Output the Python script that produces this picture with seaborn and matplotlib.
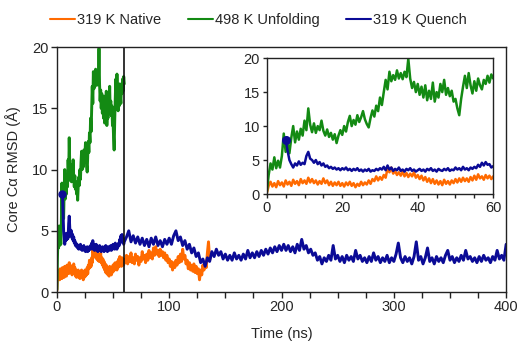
import numpy as np
import pandas as pd
import seaborn as sns
import matplotlib.pyplot as plt
from matplotlib.ticker import MultipleLocator

# RMSD traces (Angstrom)
# early part sampled every 0.5 ns, later part coarser
unfold_start, unfold_step = 0.0, 0.5
unfold_rmsd = [
    0.2, 2.8, 4.5, 3.6, 5.4, 3.8, 4.9, 3.9, 5.6, 8.9, 6.2, 7.4, 6.0, 8.3, 10.0, 7.6,
    9.2, 8.0, 9.6, 8.6, 10.8, 9.4, 12.6, 10.2, 9.1, 10.4, 9.0, 10.0, 9.4, 10.8, 9.3, 8.6,
    9.5, 8.4, 9.0, 8.0, 8.8, 7.5, 8.6, 9.4, 8.7, 10.0, 9.2, 10.6, 11.5, 10.0, 10.9, 10.2,
    11.6, 10.6, 11.3, 12.2, 11.0, 10.3, 9.8, 11.2, 12.3, 11.4, 13.0, 12.2, 14.2, 13.1, 15.0, 16.8,
    15.4, 18.0, 16.6, 17.5, 16.8, 18.2, 17.0, 17.8, 16.9, 18.0, 17.2, 19.9, 17.0, 15.6, 16.5, 15.0,
    16.2, 14.6, 15.8, 14.2, 16.0, 13.8, 15.2, 14.0, 16.4, 13.6, 15.0, 14.2, 16.2, 15.0, 16.8, 14.6,
    15.6, 14.4, 15.2, 13.6, 14.0, 12.6, 11.6, 14.0, 15.8, 17.4, 15.6, 17.8, 16.0, 14.8, 16.6, 15.2,
    17.0, 16.0, 15.4, 16.8, 16.2, 17.4, 16.4, 17.6, 17.0,
]

native_early_start, native_early_step = 0.0, 0.5
native_early = [
    0.1, 1.2, 1.8, 1.1, 1.6, 1.0, 1.9, 1.3, 1.7, 1.1, 2.0, 1.4, 1.8, 1.2, 2.1, 1.5,
    1.9, 1.3, 2.2, 1.6, 2.0, 1.5, 2.4, 1.7, 2.2, 1.6, 2.0, 1.4, 1.9, 1.5, 2.3, 1.6,
    2.0, 1.3, 1.8, 1.2, 1.7, 1.3, 1.8, 1.2, 1.6, 1.1, 1.7, 1.3, 1.8, 1.2, 1.6, 1.0,
    1.5, 1.2, 1.8, 1.3, 1.7, 1.4, 2.0, 1.5, 2.2, 1.9, 2.6, 2.0, 2.5, 2.1, 2.8, 2.4,
    3.8, 3.2, 3.9, 3.0, 3.4, 2.8, 3.2, 2.7, 3.3, 2.6, 3.1, 2.5, 3.0, 2.6, 3.2, 2.4,
    2.8, 2.2, 2.7, 2.0, 2.5, 1.8, 2.3, 1.6, 2.2, 1.5, 2.0, 1.4, 1.9, 1.3, 2.1, 1.5,
    1.9, 1.4, 2.0, 1.6, 2.2, 1.7, 2.3, 1.8, 2.4, 1.9, 2.3, 1.8, 2.5, 2.0, 2.7, 2.1,
    2.9, 2.3, 2.6, 2.1, 2.8, 2.3, 2.7, 2.2, 2.6,
]
native_late_start, native_late_step = 61.0, 1.0
native_late = [
    2.4, 3.0, 2.3, 2.9, 2.5, 3.2, 2.4, 2.8, 2.3, 3.1, 2.6, 2.9, 2.2, 2.8, 2.5, 3.3,
    2.7, 3.0, 2.4, 3.1, 2.6, 3.4, 2.8, 3.2, 2.7, 3.6, 3.0, 3.7, 3.1, 3.4, 2.9, 3.5,
    3.0, 3.3, 2.8, 3.2, 2.6, 3.0, 2.4, 2.7, 2.1, 2.5, 1.8, 2.4, 2.0, 2.6, 2.2, 2.9,
    2.4, 3.1, 2.5, 3.5, 2.7, 3.0, 2.3, 2.6, 1.9, 2.4, 1.8, 2.2, 1.7, 2.3, 1.6, 2.1,
    1.5, 1.9, 1.0, 1.8, 1.4, 2.2, 1.8, 2.4, 2.0, 3.2, 4.1, 2.6, 3.0,
]

quench_early_start, quench_early_step = 5.0, 0.5
quench_early = [
    8.0, 6.4, 5.0, 4.4, 3.9, 4.5, 4.2, 4.8, 4.3, 4.6, 4.4, 5.6, 6.2, 5.2, 5.0, 4.6,
    5.0, 4.4, 4.7, 4.2, 4.5, 4.0, 4.2, 3.8, 4.0, 3.7, 3.9, 3.6, 3.8, 3.5, 3.8, 3.6,
    3.9, 3.5, 3.7, 3.4, 3.7, 3.5, 3.8, 3.4, 3.6, 3.3, 3.6, 3.4, 3.7, 3.3, 3.5, 3.4,
    3.7, 3.5, 3.8, 3.6, 4.0, 3.5, 4.2, 3.6, 3.9, 3.4, 3.7, 3.5, 3.9, 3.4, 3.6, 3.3,
    3.7, 3.5, 3.8, 3.4, 3.6, 3.3, 3.5, 3.7, 3.4, 3.6, 3.3, 3.7, 3.5, 3.8, 3.4, 3.6,
    3.3, 3.7, 3.5, 3.4, 3.7, 3.5, 3.8, 3.4, 3.6, 3.5, 3.9, 3.6, 3.8, 3.5, 4.0, 3.6,
    3.8, 3.5, 3.9, 3.7, 4.0, 3.8, 4.3, 4.0, 4.6, 4.2, 4.7, 4.3, 4.4, 3.9, 4.1,
]
quench_late_start, quench_late_step = 62.0, 2.0
quench_late = [
    4.5, 5.0, 4.1, 4.6, 4.0, 4.5, 3.9, 4.4, 3.8, 4.3, 3.7, 4.4, 3.9, 4.5, 3.8, 4.2,
    3.7, 4.3, 3.9, 4.4, 3.9, 4.6, 5.0, 4.2, 4.5, 3.8, 4.2, 3.5, 3.9, 3.2, 3.6, 2.9,
    3.2, 2.4, 2.7, 2.1, 2.8, 2.5, 3.3, 2.9, 3.5, 3.0, 3.3, 2.7, 3.1, 2.6, 3.0, 2.6,
    3.2, 2.7, 3.0, 2.6, 3.1, 2.7, 3.4, 2.8, 3.2, 2.8, 3.3, 2.9, 3.4, 3.0, 3.5, 3.1,
    3.6, 3.2, 3.7, 3.3, 3.8, 3.4, 3.9, 3.4, 3.8, 3.3, 3.7, 3.2, 3.9, 3.4, 4.3, 3.5,
    3.8, 3.2, 3.5, 3.0, 3.2, 2.6, 2.9, 2.3, 2.8, 2.5, 3.0, 2.6, 3.8, 2.7, 3.0, 2.5,
    2.9, 2.4, 3.0, 2.6, 2.9, 2.5, 3.4, 2.7, 3.0, 2.5, 2.8, 2.4, 2.9, 2.5, 3.2, 2.6,
    2.9, 2.4, 2.8, 2.5, 3.0, 2.4, 2.8, 2.5, 3.1, 4.0, 2.8, 2.4, 2.9, 2.5, 2.8, 2.3,
    2.9, 4.1, 2.6, 2.9, 2.3, 2.8, 3.6, 2.5, 2.8, 2.3, 2.9, 2.5, 2.8, 2.4, 3.0, 3.4,
    2.6, 2.9, 2.4, 2.8, 2.5, 3.0, 2.6, 3.4, 2.7, 2.9, 2.5, 2.8, 2.4, 2.9, 2.5, 3.0,
    2.6, 2.8, 2.4, 2.9, 2.6, 3.4, 2.7, 3.0, 2.6, 3.9,
]

labels = ['319 K Native', '498 K Unfolding', '319 K Quench']
colors = ['#ff6a00', '#138a13', '#0b0b96']


def times(start, step, values):
    return start + step * np.arange(len(values))


def build_frames():
    native = pd.DataFrame({
        'time': np.concatenate([times(native_early_start, native_early_step, native_early),
                                times(native_late_start, native_late_step, native_late)]),
        'rmsd': native_early + native_late})
    unfold = pd.DataFrame({'time': times(unfold_start, unfold_step, unfold_rmsd),
                           'rmsd': unfold_rmsd})
    quench = pd.DataFrame({
        'time': np.concatenate([times(quench_early_start, quench_early_step, quench_early),
                                times(quench_late_start, quench_late_step, quench_late)]),
        'rmsd': quench_early + quench_late})
    return [native, unfold, quench]


def draw_traces(ax, frames, lw, ms):
    for df, color in zip(frames, colors):
        sns.lineplot(data=df, x='time', y='rmsd', color=color, lw=lw,
                     estimator=None, sort=False, ax=ax)
    quench = frames[2]
    ax.plot(quench['time'].iloc[0], quench['rmsd'].iloc[0], 'o',
            color=colors[2], ms=ms, zorder=5)


def style_axes(ax, tick_len):
    for side in ['left', 'right', 'top', 'bottom']:
        ax.spines[side].set_visible(True)
        ax.spines[side].set_color('#222222')
        ax.spines[side].set_linewidth(1.0)
    ax.tick_params(which='major', direction='out', length=tick_len, width=1.0,
                   color='#222222', labelsize=10.5, pad=2)
    ax.tick_params(which='minor', direction='out', length=tick_len, width=1.0,
                   color='#222222')
    ax.set_xlabel('')
    ax.set_ylabel('')


def main():
    sns.set_style('ticks')
    plt.rcParams['font.family'] = ['Liberation Sans', 'DejaVu Sans']
    frames = build_frames()

    fig = plt.figure(figsize=(5.17, 3.44), dpi=100)
    ax = fig.add_axes([0.110, 0.151, 0.869, 0.712])
    draw_traces(ax, frames, 2.1, 5)
    ax.axvline(60, color='#111111', lw=1.2)
    ax.set_xlim(0, 400)
    ax.set_ylim(0, 20)
    ax.xaxis.set_major_locator(MultipleLocator(100))
    ax.xaxis.set_minor_locator(MultipleLocator(25))
    ax.yaxis.set_major_locator(MultipleLocator(5))
    style_axes(ax, 4)
    ax.set_xlabel('Time (ns)', fontsize=10.5, labelpad=9)
    ax.set_ylabel('Core C\u03b1 RMSD (\u00c5)', fontsize=10.5, labelpad=8)

    inset = fig.add_axes([0.516, 0.436, 0.438, 0.395])
    inset.set_facecolor('white')
    draw_traces(inset, frames, 1.8, 5.5)
    inset.set_xlim(0, 60)
    inset.set_ylim(0, 20)
    inset.xaxis.set_major_locator(MultipleLocator(20))
    inset.xaxis.set_minor_locator(MultipleLocator(5))
    inset.yaxis.set_major_locator(MultipleLocator(5))
    style_axes(inset, 3)

    handles = [plt.Line2D([], [], color=c, lw=1.5) for c in colors]
    fig.legend(handles, labels, loc='upper center', bbox_to_anchor=(0.5, 1.0),
               ncol=3, frameon=False, fontsize=10.5, handlelength=1.7,
               handletextpad=0.15, columnspacing=1.8)

    fig.savefig('out.png', dpi=100)


if __name__ == '__main__':
    main()
